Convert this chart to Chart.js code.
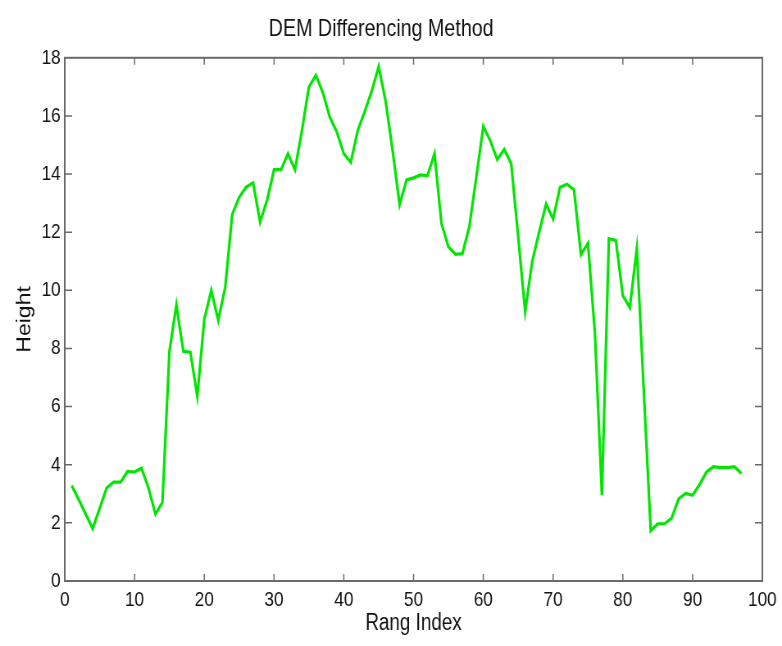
<!DOCTYPE html>
<html>
<head>
<meta charset="utf-8">
<script src="https://cdn.jsdelivr.net/npm/chart.js@4/dist/chart.umd.min.js"></script>
<style>
  html, body { margin: 0; padding: 0; background: #fff; }
  canvas { display: block; }
</style>
</head>
<body>
<!-- drawn wider, shown squeezed: the original figure has narrow, compressed lettering -->
<canvas id="chart" width="954" height="646" style="width:782px;height:646px"></canvas>
<script>
// range index along the profile
const rangIndex = [
  1, 2, 3, 4, 5, 6, 7, 8, 9, 10, 11, 12, 13, 14, 15, 16, 17, 18, 19, 20,
  21, 22, 23, 24, 25, 26, 27, 28, 29, 30, 31, 32, 33, 34, 35, 36, 37, 38, 39, 40,
  41, 42, 43, 44, 45, 46, 47, 48, 49, 50, 51, 52, 53, 54, 55, 56, 57, 58, 59, 60,
  61, 62, 63, 64, 65, 66, 67, 68, 69, 70, 71, 72, 73, 74, 75, 76, 77, 78, 79, 80,
  81, 82, 83, 84, 85, 86, 87, 88, 89, 90, 91, 92, 93, 94, 95, 96, 97
];

// height
const height = [
  3.28, 2.8, 2.3, 1.8, 2.5, 3.2, 3.4, 3.4, 3.77, 3.75,
  3.88, 3.2, 2.3, 2.7, 7.9, 9.5, 7.9, 7.87, 6.35, 9.0,
  10.0, 8.97, 10.1, 12.6, 13.2, 13.55, 13.7, 12.35, 13.1, 14.15,
  14.15, 14.7, 14.15, 15.5, 17.0, 17.4, 16.8, 15.95, 15.45, 14.7,
  14.4, 15.5, 16.15, 16.85, 17.7, 16.5, 14.8, 12.95, 13.8, 13.87,
  13.97, 13.95, 14.7, 12.3, 11.5, 11.24, 11.26, 12.2, 13.9, 15.64,
  15.15, 14.5, 14.85, 14.36, 11.85, 9.27, 10.98, 12.0, 12.97, 12.45,
  13.55, 13.65, 13.46, 11.23, 11.62, 8.53, 2.95, 11.78, 11.72, 9.82,
  9.41, 11.43, 6.57, 1.73, 1.97, 1.97, 2.16, 2.83, 3.01, 2.95,
  3.32, 3.75, 3.93, 3.9, 3.9, 3.93, 3.7
];

const xTicks = [0, 10, 20, 30, 40, 50, 60, 70, 80, 90, 100];
const yTicks = [0, 2, 4, 6, 8, 10, 12, 14, 16, 18];

const font = "'Liberation Sans', Arial, sans-serif";

// matlab style box with inward ticks on all four sides
const boxPlugin = {
  id: 'box',
  afterDraw(chart) {
    const { ctx, chartArea: a, scales } = chart;
    ctx.save();
    ctx.strokeStyle = '#6a6a6a';
    ctx.lineWidth = 1.5;
    ctx.beginPath();
    xTicks.slice(1, -1).forEach(v => {
      const px = scales.x.getPixelForValue(v);
      ctx.moveTo(px, a.bottom); ctx.lineTo(px, a.bottom - 7);
      ctx.moveTo(px, a.top); ctx.lineTo(px, a.top + 7);
    });
    yTicks.slice(1, -1).forEach(v => {
      const py = scales.y.getPixelForValue(v);
      ctx.moveTo(a.left, py); ctx.lineTo(a.left + 9, py);
      ctx.moveTo(a.right, py); ctx.lineTo(a.right - 9, py);
    });
    ctx.stroke();
    ctx.lineWidth = 2;
    ctx.strokeRect(a.left, a.top, a.right - a.left, a.bottom - a.top);
    ctx.restore();
  }
};

new Chart(document.getElementById('chart'), {
  type: 'line',
  data: {
    datasets: [{
      data: rangIndex.map((x, i) => ({ x: x, y: height[i] })),
      borderColor: '#00e600',
      borderWidth: 3.2,
      pointRadius: 0,
      tension: 0,
      fill: false
    }]
  },
  options: {
    responsive: false,
    animation: false,
    layout: { padding: { left: 0, right: 24, top: 0, bottom: 0 } },
    plugins: {
      legend: { display: false },
      tooltip: { enabled: false },
      title: {
        display: true,
        text: 'DEM Differencing Method',
        color: '#111',
        font: { family: font, size: 24, weight: 'normal' },
        padding: { top: 15, bottom: 14 }
      }
    },
    scales: {
      x: {
        type: 'linear',
        min: 0,
        max: 100,
        afterBuildTicks: s => { s.ticks = xTicks.map(v => ({ value: v })); },
        afterFit: s => { s.height = 65; s.paddingLeft = 0; s.paddingRight = 0; },
        grid: { display: false, drawTicks: false, tickLength: 0 },
        border: { display: false },
        ticks: { color: '#111', padding: 7, maxRotation: 0, font: { family: font, size: 21 } },
        title: {
          display: true,
          text: 'Rang Index',
          color: '#111',
          font: { family: font, size: 23 },
          padding: { top: 0, bottom: 9 }
        }
      },
      y: {
        min: 0,
        max: 18,
        afterBuildTicks: s => { s.ticks = yTicks.map(v => ({ value: v })); },
        afterFit: s => { s.width = 79; s.paddingTop = 0; s.paddingBottom = 0; },
        grid: { display: false, drawTicks: false, tickLength: 0 },
        border: { display: false },
        ticks: { color: '#111', padding: 5, font: { family: font, size: 21 } },
        title: {
          display: true,
          text: 'Height',
          color: '#111',
          font: { family: font, size: 23 },
          padding: { top: 17, bottom: 0 }
        }
      }
    }
  },
  plugins: [boxPlugin]
});
</script>
</body>
</html>
